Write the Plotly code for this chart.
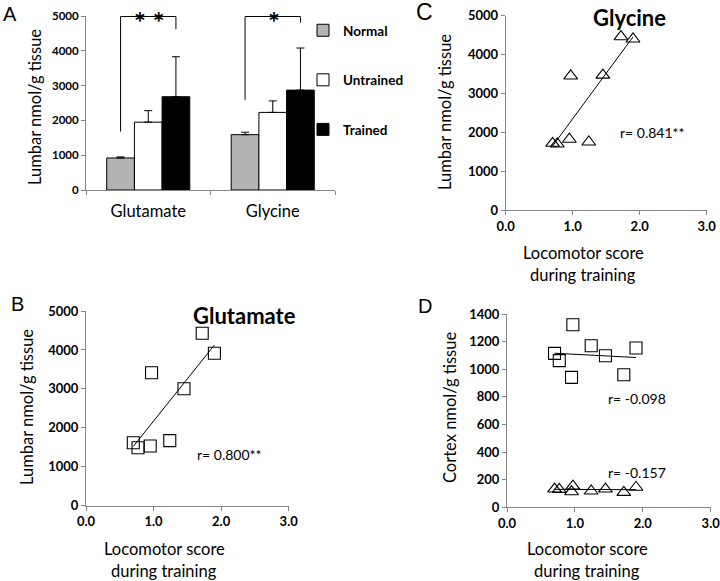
import numpy as np
import plotly.graph_objects as go

# ---------------- data ----------------
amino_acids = ["Glutamate", "Glycine"]
groups = ["Normal", "Untrained", "Trained"]
bar_means = {
    "Normal": [920, 1590],
    "Untrained": [1950, 2230],
    "Trained": [2680, 2870],
}
bar_errors = {
    "Normal": [30, 70],
    "Untrained": [330, 330],
    "Trained": [1150, 1210],
}
bar_colors = {"Normal": "#b4b4b4", "Untrained": "#ffffff", "Trained": "#000000"}

locomotor_score = [0.70, 0.77, 0.95, 0.97, 1.24, 1.45, 1.72, 1.90]
lumbar_glutamate = [1618, 1490, 1533, 3416, 1670, 3005, 4428, 3914]
lumbar_glycine = [1716, 1700, 1820, 3450, 1750, 3470, 4460, 4400]
cortex_glutamate = [1115, 1062, 941, 1322, 1170, 1098, 960, 1154]
cortex_glycine = [132, 130, 113, 154, 118, 132, 108, 145]

r_glutamate = "r= 0.800**"
r_glycine = "r= 0.841**"
r_cortex_glu = "r= -0.098"
r_cortex_gly = "r= -0.157"

FONT = "Lato"
AXIS_COLOR = "#868686"

W, H = 720, 581


def dx(p0, p1):
    return [p0 / W, p1 / W]


def dy(top, bottom):
    return [1 - bottom / H, 1 - top / H]


fig = go.Figure()

# ---------------- panel A: bars ----------------
for g in groups:
    fig.add_trace(go.Bar(
        x=amino_acids, y=bar_means[g], name=g,
        marker=dict(color=bar_colors[g], line=dict(color="black", width=1)),
        error_y=dict(type="data", symmetric=False, array=bar_errors[g],
                     arrayminus=[0, 0], color="black", thickness=1, width=4),
        xaxis="x", yaxis="y", legendgroup=g,
    ))


def fit_line(x, y):
    x = np.asarray(x, float)
    y = np.asarray(y, float)
    m, b = np.polyfit(x, y, 1)
    xs = np.array([x.min(), x.max()])
    return xs, m * xs + b


def scatter_panel(x, y, symbol, size, xa, ya):
    lx, ly = fit_line(x, y)
    fig.add_trace(go.Scatter(
        x=lx, y=ly, mode="lines", showlegend=False,
        line=dict(color="black", width=1), xaxis=xa, yaxis=ya,
    ))
    fig.add_trace(go.Scatter(
        x=x, y=y, mode="markers", showlegend=False,
        marker=dict(symbol=symbol, size=size, color="black",
                    line=dict(color="black", width=1.1)),
        xaxis=xa, yaxis=ya, cliponaxis=False,
    ))


# B: glutamate (x2,y2); C: glycine (x3,y3); D: cortex (x4,y4)
scatter_panel(locomotor_score, lumbar_glutamate, "square-open", 12, "x2", "y2")
scatter_panel(locomotor_score, lumbar_glycine, "triangle-up-open", 12, "x3", "y3")
scatter_panel(locomotor_score, cortex_glutamate, "square-open", 12, "x4", "y4")
scatter_panel(locomotor_score, cortex_glycine, "triangle-up-open", 12, "x4", "y4")

tickfont_s = dict(family=FONT, size=13, color="black", weight="bold")

common = dict(showline=True, linecolor=AXIS_COLOR, linewidth=1, ticks="outside",
              tickcolor=AXIS_COLOR, ticklen=4, showgrid=False, zeroline=False,
              automargin=False, ticklabeloverflow="allow")

scatter_x = dict(common, range=[0, 3], tickvals=[0, 1, 2, 3], tickformat=".1f",
                 tickfont=tickfont_s)

fig.update_layout(
    width=W, height=H, margin=dict(l=0, r=0, t=0, b=0),
    paper_bgcolor="white", plot_bgcolor="white",
    barmode="group", bargap=0.333, bargroupgap=0,
    font=dict(family=FONT, color="black"),
    xaxis=dict(common, domain=dx(86, 335), anchor="y", tickson="boundaries",
               ticklabelstandoff=6,
               tickfont=dict(family=FONT, size=16.5, color="black")),
    yaxis=dict(common, domain=dy(16, 190), anchor="x", range=[0, 5000], dtick=1000,
               tickfont=dict(family=FONT, size=11.5, color="black", weight="bold")),
    xaxis2=dict(scatter_x, domain=dx(86, 288.7), anchor="y2"),
    yaxis2=dict(common, domain=dy(311, 505.7), anchor="x2", range=[0, 5000], dtick=1000,
                tickfont=tickfont_s),
    xaxis3=dict(scatter_x, domain=dx(505.7, 706.7), anchor="y3"),
    yaxis3=dict(common, domain=dy(15.7, 210), anchor="x3", range=[0, 5000], dtick=1000,
                tickfont=tickfont_s),
    xaxis4=dict(scatter_x, domain=dx(507, 710.7), anchor="y4"),
    yaxis4=dict(common, domain=dy(314, 507.3), anchor="x4", range=[0, 1400], dtick=200,
                tickfont=tickfont_s),
    legend=dict(x=303 / W, y=1 - 15 / H, xanchor="left", yanchor="top",
                traceorder="grouped", tracegroupgap=29,
                font=dict(family=FONT, size=13.5, color="black", weight="bold"),
                bgcolor="rgba(0,0,0,0)", itemwidth=30),
    showlegend=True,
)


def ann(text, px, py, size, bold=False, angle=0, family=FONT):
    fig.add_annotation(x=px / W, y=1 - py / H, xref="paper", yref="paper",
                       text=text, showarrow=False, xanchor="center", yanchor="middle",
                       textangle=angle,
                       font=dict(family=family, size=size, color="black",
                                 weight="bold" if bold else "normal"))


# significance brackets in panel A
half = (1 - 0.333) / 3  # bar width in category units
brackets = [
    # (category index, left y, right y, label, label x px)
    (0, 1680, 4620, "* *", 149),
    (1, 2590, 4810, "*", 274),
]
for ci, yl, yr, star, sx in brackets:
    xl = ci - half
    xr = ci + half
    top = 4985
    fig.add_shape(type="line", xref="x", yref="y", x0=xl, x1=xl, y0=yl, y1=top,
                  line=dict(color="black", width=1))
    fig.add_shape(type="line", xref="x", yref="y", x0=xl, x1=xr, y0=top, y1=top,
                  line=dict(color="black", width=1))
    fig.add_shape(type="line", xref="x", yref="y", x0=xr, x1=xr, y0=yr, y1=top,
                  line=dict(color="black", width=1))
    ann(star, sx, 22, 28, bold=True)

# axis titles
ann("Lumbar nmol/g tissue", 35, 107, 16.5, angle=-90)
ann("Lumbar nmol/g tissue", 27, 407, 16.5, angle=-90)
ann("Lumbar nmol/g tissue", 445, 112, 16.5, angle=-90)
ann("Cortex nmol/g tissue", 450, 408, 16.5, angle=-90)
for cx, cy in [(164, 549), (583, 253), (587, 549)]:
    ann("Locomotor score", cx, cy, 16.5)
    ann("during training", cx, cy + 22, 16.5)

# panel titles and r values
ann("Glutamate", 244, 315, 22, bold=True)
ann("Glycine", 629, 18, 22, bold=True)
ann(r_glutamate, 230, 454, 14)
ann(r_glycine, 652, 132, 14)
ann(r_cortex_glu, 637, 398, 14)
ann(r_cortex_gly, 637, 472, 14)

# panel letters
ann("A", 10, 14, 20, family="Liberation Sans")
ann("B", 17, 304, 20, family="Liberation Sans")
ann("C", 424, 12, 23, family="Liberation Sans")
ann("D", 425, 306, 20, family="Liberation Sans")

# remove the browser's default page margin so the 720x581 figure fills the window
fig.write_html("out.html", config={"displayModeBar": False},
               post_script="document.body.style.margin='0px';")
